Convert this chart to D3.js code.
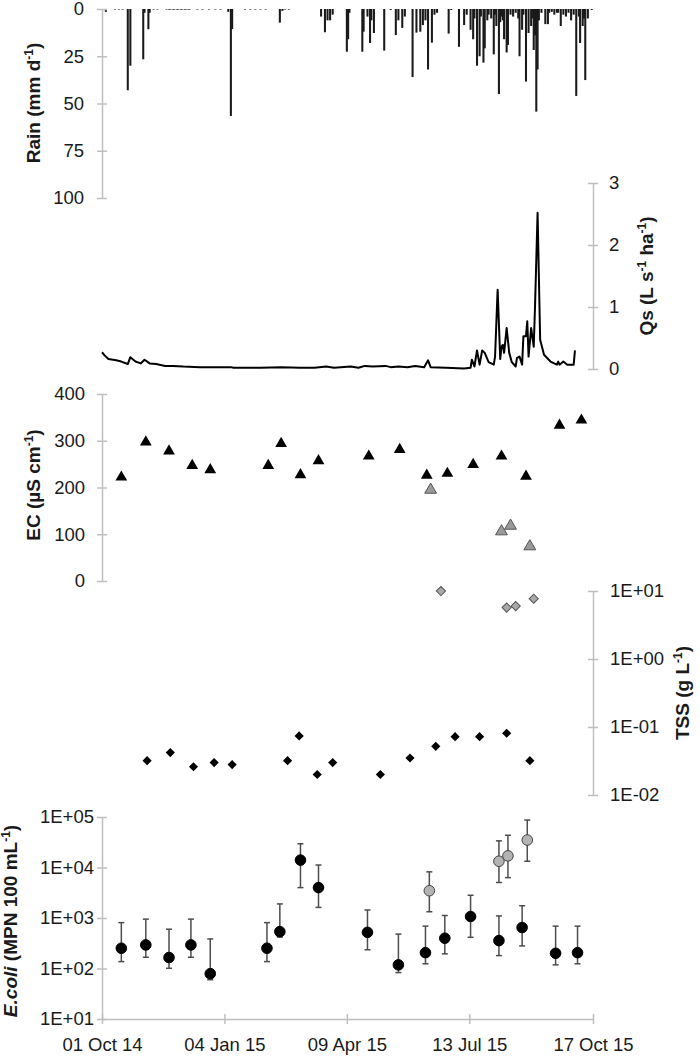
<!DOCTYPE html>
<html>
<head>
<meta charset="utf-8">
<script src="https://cdnjs.cloudflare.com/ajax/libs/d3/7.8.5/d3.min.js"></script>
<style>
body { margin: 0; background: #fff; }
text { font-family: "Liberation Sans", Arial, sans-serif; fill: #1a1a1a; }
</style>
</head>
<body>
<script>
'use strict';

// daily rain (mm d-1), only days with rain
var rainDates = ['2014-10-04', '2014-10-11', '2014-10-14', '2014-10-17', '2014-10-21', '2014-10-23',
    '2014-11-02', '2014-11-03', '2014-11-06', '2014-11-07', '2014-11-10', '2014-11-13',
    '2014-11-20', '2014-11-22', '2014-11-23', '2014-11-25', '2014-11-26', '2014-11-28', '2014-11-29',
    '2014-12-01', '2014-12-02', '2014-12-04', '2014-12-05', '2014-12-07', '2014-12-08',
    '2014-12-14', '2014-12-18', '2014-12-23', '2014-12-28', '2015-01-01', '2015-01-07', '2015-01-09', '2015-01-10',
    '2015-01-20', '2015-01-24', '2015-01-28', '2015-02-01', '2015-02-05', '2015-02-16', '2015-02-18',
    '2015-02-20', '2015-02-23', '2015-03-20', '2015-03-23', '2015-03-25', '2015-03-27', '2015-03-29',
    '2015-04-09', '2015-04-10', '2015-04-11', '2015-04-21', '2015-04-22', '2015-04-25', '2015-04-27',
    '2015-04-28', '2015-04-30', '2015-05-08', '2015-05-13', '2015-05-17', '2015-05-19', '2015-05-22',
    '2015-05-24', '2015-05-30', '2015-06-02', '2015-06-05', '2015-06-07', '2015-06-09', '2015-06-11',
    '2015-06-14', '2015-06-16', '2015-06-18', '2015-06-27', '2015-06-29', '2015-07-05', '2015-07-09',
    '2015-07-11', '2015-07-14', '2015-07-16', '2015-07-17', '2015-07-19', '2015-07-21', '2015-07-22',
    '2015-07-24', '2015-07-25', '2015-07-27', '2015-07-28', '2015-07-30', '2015-08-01', '2015-08-02',
    '2015-08-03', '2015-08-05', '2015-08-06', '2015-08-07', '2015-08-08', '2015-08-09', '2015-08-11',
    '2015-08-12', '2015-08-14', '2015-08-16', '2015-08-18', '2015-08-20', '2015-08-21', '2015-08-23',
    '2015-08-24', '2015-08-26', '2015-08-28', '2015-08-30', '2015-08-31', '2015-09-01', '2015-09-02',
    '2015-09-03', '2015-09-04', '2015-09-05', '2015-09-07', '2015-09-10', '2015-09-12', '2015-09-13',
    '2015-09-15', '2015-09-17', '2015-09-19', '2015-09-20', '2015-09-22', '2015-09-24', '2015-09-26',
    '2015-09-28', '2015-09-30', '2015-10-02', '2015-10-04', '2015-10-06', '2015-10-07', '2015-10-09',
    '2015-10-10', '2015-10-11', '2015-10-13', '2015-10-16'];
var rainMm = [1.5, 0.3, 0.3, 0.3, 43, 30,
    26.6, 2, 10.7, 2, 0.3, 0.3,
    0.3, 0.3, 0.3, 0.3, 0.3, 0.3, 0.3,
    0.3, 0.3, 0.3, 0.3, 0.3, 0.3,
    0.3, 0.3, 0.3, 0.3, 0.3, 1.5, 56.6, 10.6,
    0.3, 0.3, 0.3, 0.3, 0.3, 7.2, 1,
    0.3, 0.3, 4, 12.3, 6, 6, 3,
    22.6, 16, 2, 22.6, 12, 4, 18,
    6, 12.7, 22, 0.5, 13.8, 6, 10,
    4, 36, 12.5, 12, 8.5, 6, 32,
    17.8, 3, 2, 13, 0.5, 20, 8.5,
    3, 11, 16, 5, 30, 25, 4,
    28.4, 20.8, 6, 3, 5, 24, 3,
    9, 45, 7, 4, 6, 16, 23,
    19, 3, 4, 2, 5, 25, 11,
    3, 38.4, 12.7, 9, 5, 21.7, 14,
    54.3, 32, 6, 2, 8, 8, 2,
    1.5, 3, 2, 2, 9, 3, 4,
    2, 6, 3, 46, 4, 18, 9,
    5, 37.6, 5, 0.5];

// specific discharge Qs (L s-1 ha-1)
var qsDates = ['2014-10-01', '2014-10-03', '2014-10-06', '2014-10-12', '2014-10-16', '2014-10-21', '2014-10-23',
    '2014-10-27', '2014-10-31', '2014-11-03', '2014-11-07', '2014-11-12', '2014-11-19', '2014-11-25',
    '2014-12-03', '2014-12-16', '2014-12-29', '2015-01-09', '2015-01-11', '2015-02-01', '2015-02-17',
    '2015-03-04', '2015-03-15', '2015-03-24', '2015-03-30', '2015-04-12', '2015-04-18', '2015-04-23',
    '2015-04-29', '2015-05-09', '2015-05-13', '2015-05-19', '2015-05-26', '2015-06-01', '2015-06-08',
    '2015-06-11', '2015-06-13', '2015-06-25', '2015-07-09', '2015-07-14', '2015-07-15', '2015-07-17',
    '2015-07-19', '2015-07-21', '2015-07-23', '2015-07-25', '2015-07-28', '2015-08-01', '2015-08-02',
    '2015-08-04', '2015-08-06', '2015-08-07', '2015-08-08', '2015-08-09', '2015-08-11', '2015-08-13',
    '2015-08-15', '2015-08-18', '2015-08-19', '2015-08-21', '2015-08-23', '2015-08-24', '2015-08-26',
    '2015-08-27', '2015-08-28', '2015-08-30', '2015-09-01', '2015-09-02', '2015-09-04', '2015-09-06',
    '2015-09-09', '2015-09-14', '2015-09-19', '2015-09-20', '2015-09-21', '2015-09-24', '2015-09-27',
    '2015-10-02', '2015-10-03'];
var qsValues = [0.27, 0.22, 0.16, 0.14, 0.12, 0.08, 0.19,
    0.12, 0.09, 0.15, 0.09, 0.08, 0.05, 0.05,
    0.04, 0.03, 0.03, 0.03, 0.02, 0.02, 0.03,
    0.02, 0.02, 0.04, 0.02, 0.04, 0.02, 0.05,
    0.04, 0.05, 0.03, 0.04, 0.03, 0.05, 0.03,
    0.14, 0.03, 0.02, 0.01, 0.02, 0.15, 0.04,
    0.30, 0.07, 0.30, 0.26, 0.11, 0.07, 0.2,
    1.28, 0.16, 0.36, 0.39, 0.26, 0.66, 0.26,
    0.11, 0.04, 0.18, 0.2, 0.07, 0.53, 0.53,
    0.77, 0.2, 0.66, 0.36, 1.0, 2.52, 0.47,
    0.23, 0.12, 0.07, 0.12, 0.07, 0.12, 0.07,
    0.07, 0.3];

// EC (uS cm-1): baseflow (black) and stormflow (grey)
var ecDates = ['2014-10-16', '2014-11-04', '2014-11-22', '2014-12-10', '2014-12-24', '2015-02-07',
    '2015-02-17', '2015-03-04', '2015-03-18', '2015-04-26', '2015-05-20', '2015-06-10',
    '2015-06-26', '2015-07-16', '2015-08-07', '2015-08-26', '2015-09-21', '2015-10-08'];
var ecValues = [222, 297, 278, 247, 238, 247, 294, 227, 257, 267, 281, 226, 230, 249, 267, 224, 333, 344];
var ecStormDates = ['2015-06-13', '2015-08-07', '2015-08-14', '2015-08-29'];
var ecStormValues = [195, 106, 118, 74];

// TSS (g L-1)
var tssDates = ['2014-11-05', '2014-11-23', '2014-12-11', '2014-12-27', '2015-01-10', '2015-02-22',
    '2015-03-03', '2015-03-17', '2015-03-29', '2015-05-05', '2015-05-28', '2015-06-17',
    '2015-07-02', '2015-07-21', '2015-08-11', '2015-08-29'];
var tssValues = [0.032, 0.042, 0.026, 0.030, 0.028, 0.032, 0.074, 0.020, 0.030, 0.020, 0.035, 0.052,
    0.072, 0.072, 0.081, 0.032];
var tssStormDates = ['2015-06-21', '2015-08-11', '2015-08-18', '2015-09-01'];
var tssStormValues = [10.0, 5.7, 6.0, 7.7];

// E. coli (MPN 100 mL-1) with lower / upper limits
var ecoliDates = ['2014-10-16', '2014-11-04', '2014-11-22', '2014-12-09', '2014-12-24', '2015-02-06',
    '2015-02-16', '2015-03-04', '2015-03-18', '2015-04-25', '2015-05-19', '2015-06-09',
    '2015-06-24', '2015-07-14', '2015-08-05', '2015-08-23', '2015-09-18', '2015-10-05'];
var ecoliValues = [252, 293, 165, 293, 79, 252, 537, 14000, 4000, 520, 118, 206, 398, 1070, 357, 648, 200, 206];
var ecoliLow = [137, 167, 101, 167, 60, 137, 420, 4000, 1620, 235, 83, 124, 195, 415, 180, 280, 118, 124];
var ecoliHigh = [810, 950, 600, 950, 385, 810, 1900, 29500, 11200, 1440, 480, 690, 1120, 2820, 1100, 1750, 690, 690];
var ecoliStormDates = ['2015-06-12', '2015-08-05', '2015-08-12', '2015-08-27'];
var ecoliStormValues = [3470, 13300, 17000, 35000];
var ecoliStormLow = [1330, 5050, 6300, 13300];
var ecoliStormHigh = [8200, 33700, 43500, 87000];

// axes
var dateTicks = ['2014-10-01', '2015-01-04', '2015-04-09', '2015-07-13', '2015-10-17'];
var rainTicks = [0, 25, 50, 75, 100];
var qsTicks = [0, 1, 2, 3];
var ecTicks = [0, 100, 200, 300, 400];
var tssTicks = [0.01, 0.1, 1, 10];
var ecoliTicks = [10, 100, 1000, 10000, 100000];

var parse = d3.utcParse('%Y-%m-%d');
var axisColor = '#bfbfbf';

var svg = d3.select('body').append('svg')
    .attr('width', 700)
    .attr('height', 1059);

var x = d3.scaleTime()
    .domain([parse('2014-10-01'), parse('2015-10-17')])
    .range([102, 593]);

var yRain = d3.scaleLinear().domain([0, 100]).range([9, 198]);
var yQs = d3.scaleLinear().domain([0, 3]).range([369, 183]);
var yEc = d3.scaleLinear().domain([0, 400]).range([581, 394]);
var yTss = d3.scaleLog().domain([0.01, 10]).range([795, 591]);
var yEcoli = d3.scaleLog().domain([10, 100000]).range([1019, 817]);

function sci(d) {
    var e = Math.round(Math.log10(d));
    return '1E' + (e < 0 ? '-' : '+') + (Math.abs(e) < 10 ? '0' : '') + Math.abs(e);
}

function styleAxis(g, side) {
    g.select('.domain').attr('stroke', axisColor).attr('stroke-width', 1.5);
    g.selectAll('.tick line')
        .attr('stroke', axisColor)
        .attr('stroke-width', 1.5)
        .attr(side === 'x' ? 'y1' : 'x1', side === 'left' ? 5 : -5);
    g.selectAll('.tick text')
        .attr('fill', '#1a1a1a')
        .style('font-size', '18.5px');
}

function drawY(scale, ticks, fmt, side, pad) {
    var axis = (side === 'left' ? d3.axisLeft(scale) : d3.axisRight(scale))
        .tickValues(ticks)
        .tickFormat(fmt)
        .tickSizeInner(5)
        .tickSizeOuter(0)
        .tickPadding(pad);
    var g = svg.append('g')
        .attr('transform', 'translate(' + (side === 'left' ? 102 : 593) + ',0)')
        .call(axis);
    g.attr('font-family', null).attr('font-size', null);
    styleAxis(g, side);
    return g;
}

function title(parts, cx, cy) {
    var t = svg.append('text')
        .attr('transform', 'translate(' + cx + ',' + cy + ') rotate(-90)')
        .attr('text-anchor', 'middle')
        .style('font-size', '19px')
        .style('font-weight', 'bold');
    parts.forEach(function(p, i) {
        var s = t.append('tspan').text(p.t);
        if (p.sup) {
            s.attr('dy', -7).style('font-size', '12px');
        } else if (i > 0 && parts[i - 1].sup) {
            s.attr('dy', 7);
        }
        if (p.it) {
            s.style('font-style', 'italic');
        }
    });
}

// ---- rain ----
var dayW = x(parse('2014-10-02')) - x(parse('2014-10-01'));
svg.append('g').selectAll('rect')
    .data(rainDates.map(function(d, i) { return { date: parse(d), v: rainMm[i] }; }))
    .enter().append('rect')
    .attr('x', function(d) { return x(d.date) - dayW * 0.8; })
    .attr('y', yRain(0))
    .attr('width', dayW * 1.6)
    .attr('height', function(d) { return yRain(d.v) - yRain(0); })
    .attr('fill', '#1a1a1a');

drawY(yRain, rainTicks, d3.format('d'), 'left', 13);
title([{ t: 'Rain (mm d' }, { t: '-1', sup: true }, { t: ')' }], 40, 103);

// ---- Qs ----
var qsLine = d3.line()
    .x(function(d) { return x(d.date); })
    .y(function(d) { return yQs(d.v); });

svg.append('path')
    .datum(qsDates.map(function(d, i) { return { date: parse(d), v: qsValues[i] }; }))
    .attr('d', qsLine)
    .attr('fill', 'none')
    .attr('stroke', '#000')
    .attr('stroke-width', 2)
    .attr('stroke-linejoin', 'round');

drawY(yQs, qsTicks, d3.format('d'), 'right', 11);
title([{ t: 'Qs (L s' }, { t: '-1', sup: true }, { t: ' ha' }, { t: '-1', sup: true }, { t: ')' }], 653, 276);

// ---- EC ----
drawY(yEc, ecTicks, d3.format('d'), 'left', 12);
title([{ t: 'EC (µS cm' }, { t: '-1', sup: true }, { t: ')' }], 40, 485);

var tri = d3.symbol().type(d3.symbolTriangle).size(60);

svg.append('g').selectAll('path')
    .data(ecDates.map(function(d, i) { return { date: parse(d), v: ecValues[i] }; }))
    .enter().append('path')
    .attr('d', tri)
    .attr('transform', function(d) { return 'translate(' + x(d.date) + ',' + yEc(d.v) + ')'; })
    .attr('fill', '#000');

svg.append('g').selectAll('path')
    .data(ecStormDates.map(function(d, i) { return { date: parse(d), v: ecStormValues[i] }; }))
    .enter().append('path')
    .attr('d', tri)
    .attr('transform', function(d) { return 'translate(' + x(d.date) + ',' + yEc(d.v) + ')'; })
    .attr('fill', '#9a9a9a')
    .attr('stroke', '#555')
    .attr('stroke-width', 1);

// ---- TSS ----
drawY(yTss, tssTicks, sci, 'right', 12);
title([{ t: 'TSS (g L' }, { t: '-1', sup: true }, { t: ')' }], 689, 693);

var dia = d3.symbol().type(d3.symbolSquare).size(42);

svg.append('g').selectAll('path')
    .data(tssDates.map(function(d, i) { return { date: parse(d), v: tssValues[i] }; }))
    .enter().append('path')
    .attr('d', dia)
    .attr('transform', function(d) { return 'translate(' + x(d.date) + ',' + yTss(d.v) + ') rotate(45)'; })
    .attr('fill', '#000');

svg.append('g').selectAll('path')
    .data(tssStormDates.map(function(d, i) { return { date: parse(d), v: tssStormValues[i] }; }))
    .enter().append('path')
    .attr('d', dia)
    .attr('transform', function(d) { return 'translate(' + x(d.date) + ',' + yTss(d.v) + ') rotate(45)'; })
    .attr('fill', '#a8a8a8')
    .attr('stroke', '#555')
    .attr('stroke-width', 1);

// ---- E. coli ----
drawY(yEcoli, ecoliTicks, sci, 'left', 3);
title([{ t: 'E.coli', it: true }, { t: ' (MPN 100 mL' }, { t: '-1', sup: true }, { t: ')' }], 17, 921);

var xAxis = d3.axisBottom(x)
    .tickValues(dateTicks.map(parse))
    .tickFormat(d3.utcFormat('%d %b %y'))
    .tickSizeInner(5)
    .tickSizeOuter(0)
    .tickPadding(14);
var gx = svg.append('g')
    .attr('transform', 'translate(0,1019)')
    .call(xAxis);
gx.attr('font-family', null).attr('font-size', null);
styleAxis(gx, 'x');

function drawEcoli(dates, vals, lo, hi, fill, stroke) {
    var data = dates.map(function(d, i) {
        return { date: parse(d), v: vals[i], lo: lo[i], hi: hi[i] };
    });
    var g = svg.append('g');
    var bars = g.selectAll('g.err').data(data).enter().append('g')
        .attr('stroke', '#4d4d4d')
        .attr('stroke-width', 1.5);
    bars.append('line')
        .attr('x1', function(d) { return x(d.date); })
        .attr('x2', function(d) { return x(d.date); })
        .attr('y1', function(d) { return yEcoli(d.lo); })
        .attr('y2', function(d) { return yEcoli(d.hi); });
    bars.append('line')
        .attr('x1', function(d) { return x(d.date) - 3; })
        .attr('x2', function(d) { return x(d.date) + 3; })
        .attr('y1', function(d) { return yEcoli(d.hi); })
        .attr('y2', function(d) { return yEcoli(d.hi); });
    bars.append('line')
        .attr('x1', function(d) { return x(d.date) - 3; })
        .attr('x2', function(d) { return x(d.date) + 3; })
        .attr('y1', function(d) { return yEcoli(d.lo); })
        .attr('y2', function(d) { return yEcoli(d.lo); });
    g.selectAll('circle').data(data).enter().append('circle')
        .attr('cx', function(d) { return x(d.date); })
        .attr('cy', function(d) { return yEcoli(d.v); })
        .attr('r', 5.3)
        .attr('fill', fill)
        .attr('stroke', stroke)
        .attr('stroke-width', 1);
}

drawEcoli(ecoliDates, ecoliValues, ecoliLow, ecoliHigh, '#000', '#000');
drawEcoli(ecoliStormDates, ecoliStormValues, ecoliStormLow, ecoliStormHigh, '#b3b3b3', '#444');
</script>
</body>
</html>
